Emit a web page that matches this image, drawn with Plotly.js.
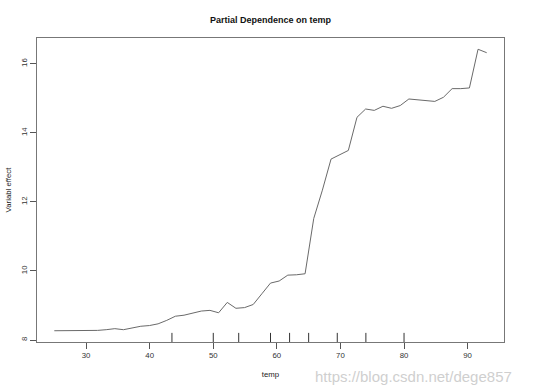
<!DOCTYPE html>
<html>
<head>
<meta charset="utf-8">
<script src="https://cdn.plot.ly/plotly-3.0.1.min.js"></script>
<style>html,body{margin:0;padding:0;background:#fff;}#chart{width:554px;height:391px;}</style>
</head>
<body>
<div id="chart"></div>
<script>
var temp = [25, 26.36, 27.72, 29.08, 30.44, 31.8, 33.16, 34.52, 35.88, 37.24,
  38.6, 39.96, 41.32, 42.68, 44.04, 45.4, 46.76, 48.12, 49.48, 50.84,
  52.2, 53.56, 54.92, 56.28, 57.64, 59.0, 60.36, 61.72, 63.08, 64.44,
  65.8, 67.16, 68.52, 69.88, 71.24, 72.6, 73.96, 75.32, 76.68, 78.04,
  79.4, 80.76, 82.12, 83.48, 84.84, 86.2, 87.56, 88.92, 90.28, 91.64, 93.0];
var effect = [8.27, 8.27, 8.27, 8.27, 8.27, 8.28, 8.30, 8.33, 8.30, 8.36,
  8.40, 8.42, 8.47, 8.57, 8.69, 8.72, 8.77, 8.84, 8.86, 8.79,
  9.09, 8.92, 8.94, 9.03, 9.34, 9.65, 9.71, 9.88, 9.89, 9.92,
  11.52, 12.34, 13.24, 13.37, 13.49, 14.45, 14.69, 14.65, 14.77, 14.71,
  14.79, 14.98, 14.96, 14.93, 14.91, 15.03, 15.28, 15.28, 15.30, 16.42, 16.32];
var rugDeciles = [43.5, 50, 54, 59, 62, 65, 69.5, 74, 80];
var xTicks = [30, 40, 50, 60, 70, 80, 90];
var yTicks = [8, 10, 12, 14, 16];

var FONT = 'Liberation Sans, Arial, Helvetica, sans-serif';

var shapes = rugDeciles.map(function (d) {
  return {type: 'line', xref: 'x', yref: 'paper', x0: d, x1: d, y0: 0, y1: 0.03,
          line: {color: '#333', width: 1}};
});

var trace = {
  x: temp, y: effect, type: 'scatter', mode: 'lines',
  line: {color: '#6a6a6a', width: 1}, hoverinfo: 'x+y'
};

var layout = {
  width: 554, height: 391,
  margin: {l: 37, r: 50, t: 38, b: 49, pad: 0},
  paper_bgcolor: '#fff', plot_bgcolor: '#fff',
  showlegend: false,
  font: {family: FONT, size: 7.8, color: '#222'},
  title: {text: '<b>Partial Dependence on temp</b>', font: {family: FONT, size: 9, color: '#111'},
          x: 0.5, xref: 'paper', y: 1 - 20 / 391, yref: 'container', yanchor: 'middle'},
  xaxis: {
    range: [22.28, 95.72], tickvals: xTicks, ticktext: xTicks.map(String),
    ticks: 'outside', ticklen: 6, tickcolor: '#555', showgrid: false, zeroline: false,
    showline: true, mirror: true, linecolor: '#777', linewidth: 1,
    tickfont: {family: FONT, size: 7.8, color: '#333'},
    title: {text: 'temp', font: {family: FONT, size: 7.8, color: '#222'}, standoff: 12}
  },
  yaxis: {
    range: [7.944, 16.746], tickvals: yTicks, ticktext: yTicks.map(String), tickangle: -90,
    ticks: 'outside', ticklen: 6, tickcolor: '#555', showgrid: false, zeroline: false,
    showline: true, mirror: true, linecolor: '#777', linewidth: 1,
    tickfont: {family: FONT, size: 7.8, color: '#333'},
    title: {text: 'Variabl effect', font: {family: FONT, size: 7.8, color: '#222'}, standoff: 7}
  },
  shapes: shapes,
  annotations: [{
    text: 'https://blog.csdn.net/dege857', xref: 'paper', yref: 'paper',
    x: (514 - 37) / 467, y: -(376 - 342) / 304, xanchor: 'right', yanchor: 'middle',
    showarrow: false, font: {family: FONT, size: 15, color: '#cfcfcf'}
  }]
};

Plotly.newPlot('chart', [trace], layout, {displayModeBar: false, staticPlot: true});
</script>
</body>
</html>
